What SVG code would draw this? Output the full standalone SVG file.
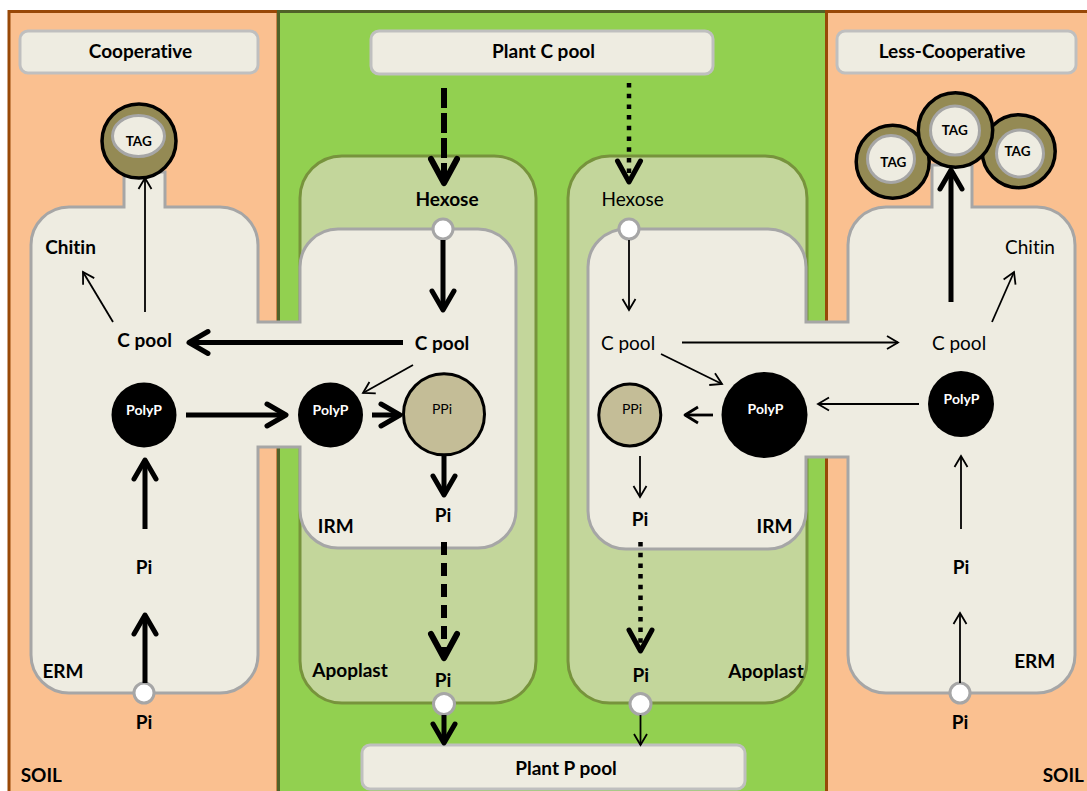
<svg xmlns="http://www.w3.org/2000/svg" width="1087" height="791" viewBox="0 0 1087 791">
<style>
.t{font-family:Lato,"Liberation Sans",sans-serif;font-size:19px;text-anchor:middle;fill:#000;font-variant-ligatures:none;font-feature-settings:"liga" 0}
.b{font-weight:700}
.r{font-weight:400}
.s{font-size:14px}
.w{fill:#fff}
.box{fill:#EEECE1;stroke:#BFBFBF;stroke-width:3}
.cell{fill:#EEECE1;stroke:#A6A6A6;stroke-width:3}
.apo{fill:#C3D69B;stroke:#77933C;stroke-width:3}
.port{fill:#fff;stroke:#A6A6A6;stroke-width:3}
.tago{fill:#948A54;stroke:#000;stroke-width:3.5}
.tagi{fill:#EEECE1;stroke:#A6A6A6;stroke-width:3}
.poly{fill:#000}
.ppi{fill:#C4BD97;stroke:#000;stroke-width:3}
.k{fill:none;stroke:#000;stroke-width:5}
.n{fill:none;stroke:#000;stroke-width:1.8}
.m{fill:none;stroke:#000;stroke-width:2.8}
.dash1{fill:none;stroke:#000;stroke-width:6;stroke-dasharray:20 5}
.dash2{fill:none;stroke:#000;stroke-width:6;stroke-dasharray:13 8}
.dot{fill:none;stroke:#000;stroke-width:4.5;stroke-dasharray:4.5 6.2}
</style>
<defs>
<marker id="aT" markerUnits="userSpaceOnUse" viewBox="-26 -16 30 32" markerWidth="30" markerHeight="32" refX="0" refY="0" orient="auto"><path d="M-19,-11 L0,0 L-19,11" fill="none" stroke="#000" stroke-width="5" stroke-linecap="round" stroke-linejoin="round"/></marker>
<marker id="aN" markerUnits="userSpaceOnUse" viewBox="-16 -10 20 20" markerWidth="20" markerHeight="20" refX="0" refY="0" orient="auto"><path d="M-11,-6.5 L0,0 L-11,6.5" fill="none" stroke="#000" stroke-width="1.8" stroke-linejoin="miter"/></marker>
<marker id="aM" markerUnits="userSpaceOnUse" viewBox="-18 -12 22 24" markerWidth="22" markerHeight="24" refX="0" refY="0" orient="auto"><path d="M-13,-8 L0,0 L-13,8" fill="none" stroke="#000" stroke-width="2.8" stroke-linejoin="round"/></marker>
<marker id="aD" markerUnits="userSpaceOnUse" viewBox="-30 -18 34 36" markerWidth="34" markerHeight="36" refX="0" refY="0" orient="auto"><path d="M-24,-13 L0,0 L-24,13" fill="none" stroke="#000" stroke-width="6" stroke-linecap="round" stroke-linejoin="round"/></marker>
<marker id="aS" markerUnits="userSpaceOnUse" viewBox="-28 -16 32 32" markerWidth="32" markerHeight="32" refX="0" refY="0" orient="auto"><path d="M-21,-11.5 L0,0 L-21,11.5" fill="none" stroke="#000" stroke-width="5" stroke-linecap="round" stroke-linejoin="round"/></marker>
</defs>

<g id="background">
<rect x="0" y="0" width="1087" height="791" fill="#fff"/>
<rect x="9" y="11.5" width="269" height="800" fill="#FAC090" stroke="#984807" stroke-width="3"/>
<rect x="278.5" y="11.5" width="548" height="800" fill="#92D050" stroke="#4F6228" stroke-width="3"/>
<rect x="826.5" y="11.5" width="300" height="800" fill="#FAC090" stroke="#984807" stroke-width="3"/>
</g>

<g id="apoplast-left"><rect class="apo" x="300" y="156" width="236" height="547" rx="42"/></g>
<g id="apoplast-right"><rect class="apo" x="568" y="156" width="239" height="547" rx="42"/></g>

<g id="cell-cooperative">
<path class="cell" d="M124,172 V207 H69 A38,38 0 0 0 31,245 V655 A38,38 0 0 0 69,693 H220 A38,38 0 0 0 258,655 V447 H300 V510 A38,38 0 0 0 338,548 H478 A38,38 0 0 0 516,510 V267 A38,38 0 0 0 478,229 H338 A38,38 0 0 0 300,267 V322 H258 V245 A38,38 0 0 0 220,207 H165 V172 Z"/>
</g>
<g id="cell-less-cooperative">
<path class="cell" d="M932,165 V207 H886 A38,38 0 0 0 848,245 V322 H806 V267 A38,38 0 0 0 768,229 H626 A38,38 0 0 0 588,267 V511 A38,38 0 0 0 626,549 H768 A38,38 0 0 0 806,511 V457 H848 V655 A38,38 0 0 0 886,693 H1037 A38,38 0 0 0 1075,655 V245 A38,38 0 0 0 1037,207 H972 V165 Z"/>
</g>

<g id="box-cooperative"><rect class="box" x="20" y="31" width="238" height="42" rx="8"/><text class="t b" x="140.5" y="58">Cooperative</text></g>
<g id="box-plant-c-pool"><rect class="box" x="371" y="31" width="342" height="43" rx="8"/><text class="t b" x="543.5" y="57.5">Plant C pool</text></g>
<g id="box-less-cooperative"><rect class="box" x="837" y="31" width="239" height="42" rx="8"/><text class="t b" x="952" y="57.5">Less-Cooperative</text></g>
<g id="box-plant-p-pool"><rect class="box" x="362" y="745" width="383" height="44" rx="8"/><text class="t b" x="566" y="775">Plant P pool</text></g>

<g id="ports">
<circle class="port" cx="443" cy="229" r="10"/>
<circle class="port" cx="629" cy="229" r="10"/>
<circle class="port" cx="144" cy="693" r="10"/>
<circle class="port" cx="960" cy="693" r="10"/>
<circle class="port" cx="444" cy="704" r="10.5"/>
<circle class="port" cx="640.5" cy="704" r="10.5"/>
</g>

<g id="tag-left">
<circle class="tago" cx="139" cy="141" r="37"/>
<ellipse class="tagi" cx="138.5" cy="136" rx="26" ry="20.5"/>
<text class="t b s" x="138.7" y="145.5" style="font-size:13.5px">TAG</text>
</g>
<g id="tag-right-1">
<circle class="tago" cx="892.7" cy="161.7" r="36.5"/>
<circle class="tagi" cx="891" cy="159" r="23.5"/>
<text class="t b" x="893.3" y="166.5" style="font-size:13.5px">TAG</text>
</g>
<g id="tag-right-3">
<circle class="tago" cx="1018.7" cy="151.2" r="36.5"/>
<circle class="tagi" cx="1020" cy="153.5" r="23.5"/>
<text class="t b" x="1017.5" y="156" style="font-size:13.5px">TAG</text>
</g>
<g id="tag-right-2">
<circle class="tago" cx="955.5" cy="130" r="37.2"/>
<circle class="tagi" cx="955" cy="130.5" r="24.5"/>
<text class="t b" x="954.7" y="135" style="font-size:13.5px">TAG</text>
</g>

<g id="polyp-erm-left"><circle class="poly" cx="144" cy="415" r="32.5"/><text class="t b s w" x="144" y="415">PolyP</text></g>
<g id="polyp-irm-left"><circle class="poly" cx="330.5" cy="415" r="32.5"/><text class="t b s w" x="330.5" y="415">PolyP</text></g>
<g id="ppi-left"><circle class="ppi" cx="444" cy="414.3" r="40.5"/><text class="t r s" x="442" y="414">PPi</text></g>
<g id="ppi-right"><circle class="ppi" cx="629.8" cy="415" r="31"/><text class="t r s" x="632" y="414">PPi</text></g>
<g id="polyp-irm-right"><circle class="poly" cx="764.5" cy="415" r="43"/><text class="t b s w" x="765.5" y="414">PolyP</text></g>
<g id="polyp-erm-right"><circle class="poly" cx="961" cy="404" r="33"/><text class="t b s w" x="961.5" y="404">PolyP</text></g>

<g id="connectors">
<line class="dash1" x1="444" y1="88" x2="444" y2="183" marker-end="url(#aD)"/>
<line class="dot" x1="629" y1="83" x2="629" y2="182" marker-end="url(#aS)"/>
<line class="k" x1="443" y1="240" x2="443" y2="310" marker-end="url(#aT)"/>
<line class="k" x1="403" y1="342.5" x2="189" y2="342.5" marker-end="url(#aT)"/>
<line class="k" x1="186" y1="415" x2="286" y2="415" marker-end="url(#aT)"/>
<line class="k" x1="372" y1="415" x2="400" y2="415" marker-end="url(#aT)"/>
<line class="k" x1="444" y1="456" x2="444" y2="495" marker-end="url(#aT)"/>
<line class="k" x1="145" y1="529" x2="145" y2="460" marker-end="url(#aT)"/>
<line class="k" x1="145" y1="683" x2="145" y2="615" marker-end="url(#aT)"/>
<line class="dash2" x1="444" y1="542" x2="444" y2="658" marker-end="url(#aD)"/>
<line class="k" x1="444" y1="715" x2="444" y2="743" marker-end="url(#aT)"/>
<line class="k" x1="951" y1="302" x2="951" y2="170" marker-end="url(#aT)"/>
<line class="n" x1="145" y1="312" x2="145" y2="178" marker-end="url(#aN)"/>
<line class="n" x1="113" y1="322" x2="83" y2="272" marker-end="url(#aN)"/>
<line class="n" x1="413" y1="365" x2="363" y2="393" marker-end="url(#aN)"/>
<line class="n" x1="629" y1="240" x2="629" y2="310" marker-end="url(#aN)"/>
<line class="n" x1="682" y1="342.5" x2="898" y2="342.5" marker-end="url(#aN)"/>
<line class="n" x1="661" y1="354" x2="722" y2="384" marker-end="url(#aN)"/>
<line class="m" x1="713" y1="415" x2="685" y2="415" marker-end="url(#aM)"/>
<line class="n" x1="919" y1="404" x2="818" y2="404" marker-end="url(#aN)"/>
<line class="n" x1="640" y1="456" x2="640" y2="497" marker-end="url(#aN)"/>
<line class="n" x1="992" y1="322" x2="1014" y2="272" marker-end="url(#aN)"/>
<line class="n" x1="961" y1="529" x2="961" y2="456" marker-end="url(#aN)"/>
<line class="n" x1="960" y1="683" x2="960" y2="613" marker-end="url(#aN)"/>
<line class="dot" x1="640.5" y1="542" x2="640.5" y2="651" marker-end="url(#aS)"/>
<line class="n" x1="640.5" y1="715" x2="640.5" y2="745" marker-end="url(#aN)"/>
</g>

<g id="labels">
<text class="t b" x="70.5" y="253.5">Chitin</text>
<text class="t b" x="144.6" y="347.3">C pool</text>
<text class="t b" x="144" y="574">Pi</text>
<text class="t b" x="63" y="678.3">ERM</text>
<text class="t b" x="144" y="729.3">Pi</text>
<text class="t b" x="41.3" y="781.7">SOIL</text>
<text class="t b" x="447" y="205.5">Hexose</text>
<text class="t b" x="442" y="350">C pool</text>
<text class="t b" x="443" y="521.7">Pi</text>
<text class="t b" x="335.7" y="532.7">IRM</text>
<text class="t b" x="350" y="677.3">Apoplast</text>
<text class="t b" x="443" y="686.7">Pi</text>
<text class="t r" x="632.6" y="205.7">Hexose</text>
<text class="t r" x="628" y="350">C pool</text>
<text class="t b" x="640" y="526">Pi</text>
<text class="t b" x="774.5" y="532.7">IRM</text>
<text class="t b" x="640.7" y="681.7">Pi</text>
<text class="t b" x="766" y="678.3">Apoplast</text>
<text class="t r" x="1030" y="254">Chitin</text>
<text class="t r" x="959" y="350">C pool</text>
<text class="t b" x="961" y="574">Pi</text>
<text class="t b" x="1034.7" y="667.7">ERM</text>
<text class="t b" x="960" y="729.3">Pi</text>
<text class="t b" x="1063.3" y="781.7">SOIL</text>
</g>
</svg>
